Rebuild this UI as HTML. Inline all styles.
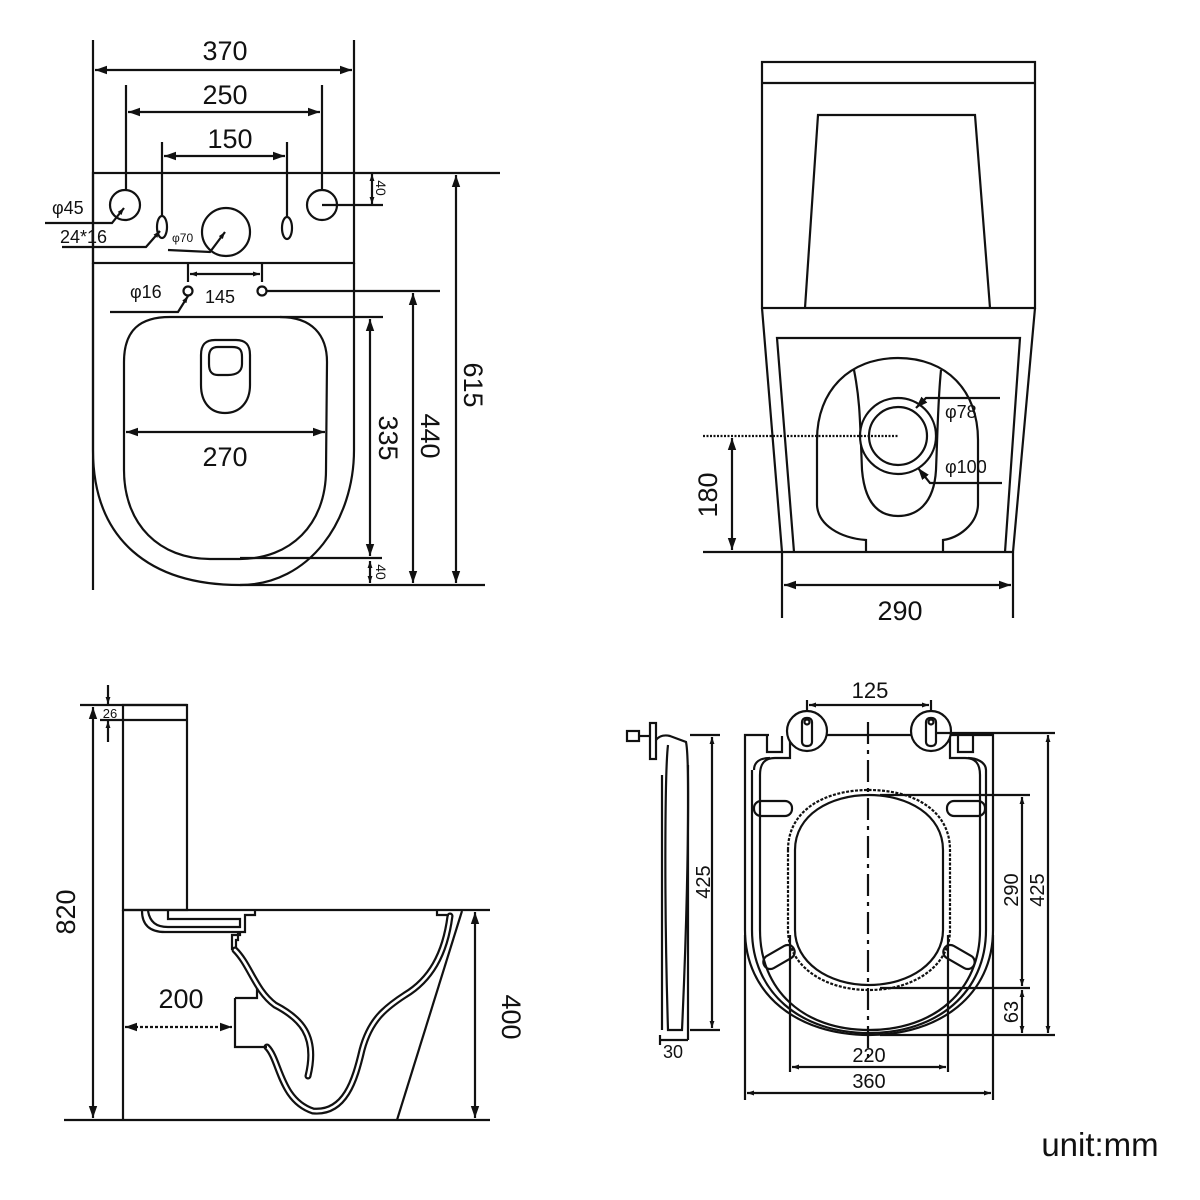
<!DOCTYPE html>
<html><head><meta charset="utf-8"><style>
html,body{margin:0;padding:0;background:#fff}
svg{display:block}
text{font-family:"Liberation Sans",Arial,sans-serif;fill:#111}
</style></head><body>
<svg width="1200" height="1200" viewBox="0 0 1200 1200" xmlns="http://www.w3.org/2000/svg">
<defs>
<marker id="a" viewBox="0 0 10 10" refX="10" refY="5" markerWidth="7" markerHeight="7" orient="auto-start-reverse" markerUnits="userSpaceOnUse"><path d="M0,1.5 L10,5 L0,8.5z" fill="#111"/></marker>
<marker id="b" viewBox="0 0 10 10" refX="10" refY="5" markerWidth="12" markerHeight="12" orient="auto-start-reverse" markerUnits="userSpaceOnUse"><path d="M0,1.5 L10,5 L0,8.5z" fill="#111"/></marker>
</defs>
<g fill="none" stroke="#111" stroke-width="2.2">
<!-- ===== TOP LEFT ===== -->
<line x1="93" y1="40" x2="93" y2="590"/>
<line x1="354" y1="40" x2="354" y2="173"/>
<line x1="95" y1="70" x2="352" y2="70" marker-start="url(#b)" marker-end="url(#b)"/>
<line x1="126" y1="85" x2="126" y2="190"/>
<line x1="322" y1="85" x2="322" y2="190"/>
<line x1="128" y1="112" x2="320" y2="112" marker-start="url(#b)" marker-end="url(#b)"/>
<line x1="162" y1="142" x2="162" y2="216"/>
<line x1="287" y1="142" x2="287" y2="216"/>
<line x1="164" y1="156" x2="285" y2="156" marker-start="url(#b)" marker-end="url(#b)"/>
<rect x="93" y="173" width="261" height="90"/>
<line x1="354" y1="173" x2="500" y2="173"/>
<circle cx="125" cy="205" r="15"/>
<circle cx="322" cy="205" r="15"/>
<ellipse cx="162" cy="227" rx="5" ry="11"/>
<ellipse cx="287" cy="228" rx="5" ry="11"/>
<circle cx="226" cy="232" r="24"/>
<line x1="322" y1="205" x2="383" y2="205"/>
<line x1="372" y1="174" x2="372" y2="204" marker-start="url(#a)" marker-end="url(#a)"/>
<polyline points="45,223 112,223 124,208" marker-end="url(#a)"/>
<polyline points="62,247 146,247 160,231" marker-end="url(#a)"/>
<polyline points="168,250 210,252 225,232" marker-end="url(#a)"/>
<line x1="188" y1="263" x2="188" y2="282"/>
<line x1="262" y1="263" x2="262" y2="282"/>
<line x1="190" y1="274" x2="260" y2="274" marker-start="url(#a)" marker-end="url(#a)"/>
<circle cx="188" cy="291" r="4.5"/>
<circle cx="262" cy="291" r="4.5"/>
<line x1="267" y1="291" x2="440" y2="291"/>
<polyline points="110,312 178,312 188,296" marker-end="url(#a)"/>
<path d="M93,263 L93,450 C93,540 150,585 240,585 L485,585"/>
<path d="M354,263 L354,450 C354,520 310,585 240,585"/>
<path d="M124,362 C124,330 140,317 170,317 L280,317 C312,317 327,335 327,362 L326,470 C326,525 290,559 240,559 L210,559 C160,559 124,525 124,470 Z"/>
<line x1="240" y1="558" x2="382" y2="558"/>
<line x1="280" y1="317" x2="383" y2="317"/>
<path d="M201,355 C201,344 206,340 215,340 L236,340 C246,340 250,345 250,355 L250,385 C250,402 240,413 225,413 C210,413 201,402 201,385 Z"/>
<path d="M209,357 C209,350 212,347 218,347 L232,347 C240,347 242,350 242,357 L242,364 C242,372 236,375 228,375 L218,375 C212,375 209,372 209,364 Z"/>
<line x1="126" y1="432" x2="325" y2="432" marker-start="url(#b)" marker-end="url(#b)"/>
<line x1="370" y1="319" x2="370" y2="556" marker-start="url(#b)" marker-end="url(#b)"/>
<line x1="370" y1="561" x2="370" y2="583" marker-start="url(#a)" marker-end="url(#a)"/>
<line x1="413" y1="293" x2="413" y2="583" marker-start="url(#b)" marker-end="url(#b)"/>
<line x1="456" y1="175" x2="456" y2="583" marker-start="url(#b)" marker-end="url(#b)"/>

<!-- ===== TOP RIGHT ===== -->
<rect x="762" y="62" width="273" height="246"/>
<line x1="762" y1="83" x2="1035" y2="83"/>
<polyline points="805,308 818,115 975,115 990,308"/>
<path d="M762,308 L782,552 L1013,552 L1035,308"/>
<path d="M794,552 L777,338 L1020,338 L1005,552"/>
<path d="M866,552 L866,540 C840,538 818,525 817,505 L817,440 C817,390 850,358 898,358 C946,358 978,390 978,440 L978,505 C977,525 958,538 943,540 L943,552"/>
<path d="M854,370 C860,400 860,420 862,470 C865,505 880,516 898,516 C916,516 934,505 936,470 C938,420 938,400 941,370"/>
<circle cx="898" cy="436" r="38" fill="#fff"/>
<circle cx="898" cy="436" r="29"/>
<line x1="703" y1="436" x2="898" y2="436" stroke-dasharray="2 1.5"/>
<polyline points="1000,398 926,398 916,408" marker-end="url(#b)"/>
<polyline points="1002,483 930,483 918,468" marker-end="url(#b)"/>
<line x1="703" y1="552" x2="782" y2="552"/>
<line x1="732" y1="438" x2="732" y2="550" marker-start="url(#b)" marker-end="url(#b)"/>
<line x1="782" y1="552" x2="782" y2="618"/>
<line x1="1013" y1="552" x2="1013" y2="618"/>
<line x1="784" y1="585" x2="1011" y2="585" marker-start="url(#b)" marker-end="url(#b)"/>

<!-- ===== BOTTOM LEFT ===== -->
<line x1="80" y1="705" x2="187" y2="705"/>
<rect x="123" y="705" width="64" height="205"/>
<line x1="123" y1="720" x2="187" y2="720"/>
<line x1="108" y1="685" x2="108" y2="704" marker-end="url(#a)"/>
<line x1="108" y1="742" x2="108" y2="721" marker-end="url(#a)"/>
<line x1="100" y1="720" x2="123" y2="720"/>
<line x1="93" y1="707" x2="93" y2="1118" marker-start="url(#b)" marker-end="url(#b)"/>
<line x1="123" y1="910" x2="490" y2="910"/>
<line x1="123" y1="910" x2="123" y2="1120"/>
<line x1="64" y1="1120" x2="490" y2="1120"/>
<line x1="475" y1="912" x2="475" y2="1118" marker-start="url(#b)" marker-end="url(#b)"/>
<path d="M142,911 C142,925 150,932 165,932 L245,932 L245,915 L255,915 L255,911"/>
<path d="M148,911 C150,922 156,927 168,927 L240,927 L240,919 L168,919 L168,911"/>
<path d="M240,932 L240,935 L232,935 L232,950"/>
<path d="M238,932 L238,940 L236,940 L236,948"/>
<g stroke-width="7" stroke-linecap="round">
<path d="M235,950 C250,965 255,990 275,1005 C300,1018 318,1035 308,1076"/>
<path d="M267,1047 C280,1060 280,1100 313,1111 C345,1114 355,1080 362,1050 C370,1020 385,1008 405,995 C430,980 445,955 450,916"/>
</g>
<g stroke="#fff" stroke-width="2.6" stroke-linecap="round">
<path d="M235,950 C250,965 255,990 275,1005 C300,1018 318,1035 308,1076"/>
<path d="M267,1047 C280,1060 280,1100 313,1111 C345,1114 355,1080 362,1050 C370,1020 385,1008 405,995 C430,980 445,955 450,916"/>
</g>
<path d="M437,911 L437,915 L449,915"/>
<path d="M235,998 L257,998 L257,988"/>
<path d="M235,998 L235,1047 L267,1047"/>
<line x1="125" y1="1027" x2="232" y2="1027" stroke-dasharray="3 2" marker-start="url(#b)" marker-end="url(#b)"/>
<line x1="462" y1="911" x2="397" y2="1120"/>

<!-- ===== BOTTOM RIGHT: side seat ===== -->
<rect x="627" y="731" width="12" height="10"/>
<line x1="639" y1="736" x2="650" y2="736"/>
<rect x="650" y="723" width="6" height="36"/>
<path d="M656,740 C660,735 666,735 670,736 L686,742 C690,760 688,900 682,1030 L668,1030 C664,900 665,770 668,745"/>
<path d="M662,775 L662,1030"/>
<line x1="688" y1="765" x2="688" y2="1040"/>
<line x1="690" y1="735" x2="720" y2="735"/>
<line x1="690" y1="1030" x2="720" y2="1030"/>
<line x1="712" y1="737" x2="712" y2="1028" marker-start="url(#a)" marker-end="url(#a)"/>
<line x1="660" y1="1035" x2="660" y2="1045"/>
<line x1="660" y1="1040" x2="688" y2="1040"/>

<!-- ===== BOTTOM RIGHT: front seat ===== -->
<path d="M745,742 L745,735 L769,735 M948,735 L993,735 L993,930 C993,995 940,1035 869,1035 C798,1035 745,995 745,930 L745,742"/>
<line x1="745" y1="935" x2="745" y2="1100"/>
<line x1="993" y1="935" x2="993" y2="1100"/>
<path d="M767,736 L767,752 L782,752 L782,736"/>
<path d="M958,736 L958,752 L973,752 L973,736"/>
<path d="M760,775 C760,763 765,758 775,758 L790,758 L790,735 L950,735 L950,758 L965,758 C975,758 980,763 980,775 L980,930 C980,990 935,1030 869,1030 C803,1030 760,990 760,930 Z"/>
<path d="M754,770 C754,762 760,758 770,758 M968,758 C976,758 986,762 986,770 L986,930 C986,992 938,1033 869,1033 C800,1033 752,992 752,930 L752,770"/>
<circle cx="807" cy="731" r="20" fill="#fff"/>
<circle cx="931" cy="731" r="20" fill="#fff"/>
<rect x="802" y="718" width="10" height="28" rx="4"/>
<rect x="926" y="718" width="10" height="28" rx="4"/>
<circle cx="807" cy="722" r="2.5"/>
<circle cx="931" cy="722" r="2.5"/>
<line x1="807" y1="700" x2="807" y2="712"/>
<line x1="931" y1="700" x2="931" y2="712"/>
<line x1="809" y1="705" x2="929" y2="705" marker-start="url(#a)" marker-end="url(#a)"/>
<path d="M788,850 C788,810 825,790 869,790 C913,790 950,810 950,850 L950,930 C950,965 915,990 869,990 C823,990 788,965 788,930 Z" stroke-dasharray="3 1.5"/>
<path d="M795,850 C795,815 830,795 869,795 C908,795 943,815 943,850 L943,930 C943,962 910,985 869,985 C828,985 795,962 795,930 Z"/>
<rect x="754" y="801" width="38" height="15" rx="7"/>
<rect x="947" y="801" width="38" height="15" rx="7"/>
<rect x="762" y="950" width="34" height="14" rx="7" transform="rotate(-30 779 957)"/>
<rect x="942" y="950" width="34" height="14" rx="7" transform="rotate(30 959 957)"/>
<line x1="868" y1="722" x2="868" y2="1062" stroke-dasharray="22 6 4 6"/>
<line x1="935" y1="733" x2="1055" y2="733"/>
<line x1="880" y1="795" x2="1030" y2="795"/>
<line x1="880" y1="988" x2="1030" y2="988"/>
<line x1="880" y1="1035" x2="1055" y2="1035"/>
<line x1="1022" y1="797" x2="1022" y2="986" marker-start="url(#a)" marker-end="url(#a)"/>
<line x1="1022" y1="990" x2="1022" y2="1033" marker-start="url(#a)" marker-end="url(#a)"/>
<line x1="1048" y1="735" x2="1048" y2="1033" marker-start="url(#a)" marker-end="url(#a)"/>
<line x1="790" y1="935" x2="790" y2="1072"/>
<line x1="948" y1="935" x2="948" y2="1072"/>
<line x1="792" y1="1067" x2="946" y2="1067" marker-start="url(#a)" marker-end="url(#a)"/>
<line x1="747" y1="1093" x2="991" y2="1093" marker-start="url(#a)" marker-end="url(#a)"/>
</g>

<g font-size="27">
<text x="225" y="60" text-anchor="middle">370</text>
<text x="225" y="104" text-anchor="middle">250</text>
<text x="230" y="148" text-anchor="middle">150</text>
<text x="225" y="466" text-anchor="middle">270</text>
<text x="900" y="620" text-anchor="middle">290</text>
<text x="181" y="1008" text-anchor="middle">200</text>
<text transform="translate(379,438) rotate(90)" text-anchor="middle">335</text>
<text transform="translate(421,436) rotate(90)" text-anchor="middle">440</text>
<text transform="translate(464,385) rotate(90)" text-anchor="middle">615</text>
<text transform="translate(717,495) rotate(-90)" text-anchor="middle">180</text>
<text transform="translate(75,912) rotate(-90)" text-anchor="middle">820</text>
<text transform="translate(502,1017) rotate(90)" text-anchor="middle">400</text>
</g>
<g font-size="18">
<text x="52" y="214">φ45</text>
<text x="60" y="243">24*16</text>
<text x="130" y="298">φ16</text>
<text x="205" y="303">145</text>
<text x="945" y="418">φ78</text>
<text x="945" y="473">φ100</text>
<text transform="translate(376,188) rotate(90)" font-size="14" text-anchor="middle">40</text>
<text transform="translate(376,572) rotate(90)" font-size="14" text-anchor="middle">40</text>
</g>
<text x="172" y="242" font-size="12">φ70</text>
<text x="110" y="718" font-size="13" text-anchor="middle">26</text>
<g font-size="20">
<text x="870" y="698" text-anchor="middle" font-size="22">125</text>
<text transform="translate(710,882) rotate(-90)" text-anchor="middle">425</text>
<text x="673" y="1058" text-anchor="middle" font-size="18">30</text>
<text transform="translate(1018,890) rotate(-90)" text-anchor="middle">290</text>
<text transform="translate(1044,890) rotate(-90)" text-anchor="middle">425</text>
<text transform="translate(1018,1012) rotate(-90)" text-anchor="middle">63</text>
<text x="869" y="1062" text-anchor="middle">220</text>
<text x="869" y="1088" text-anchor="middle">360</text>
</g>
<text x="1100" y="1156" font-size="33" text-anchor="middle">unit:mm</text>
</svg>
</body></html>
